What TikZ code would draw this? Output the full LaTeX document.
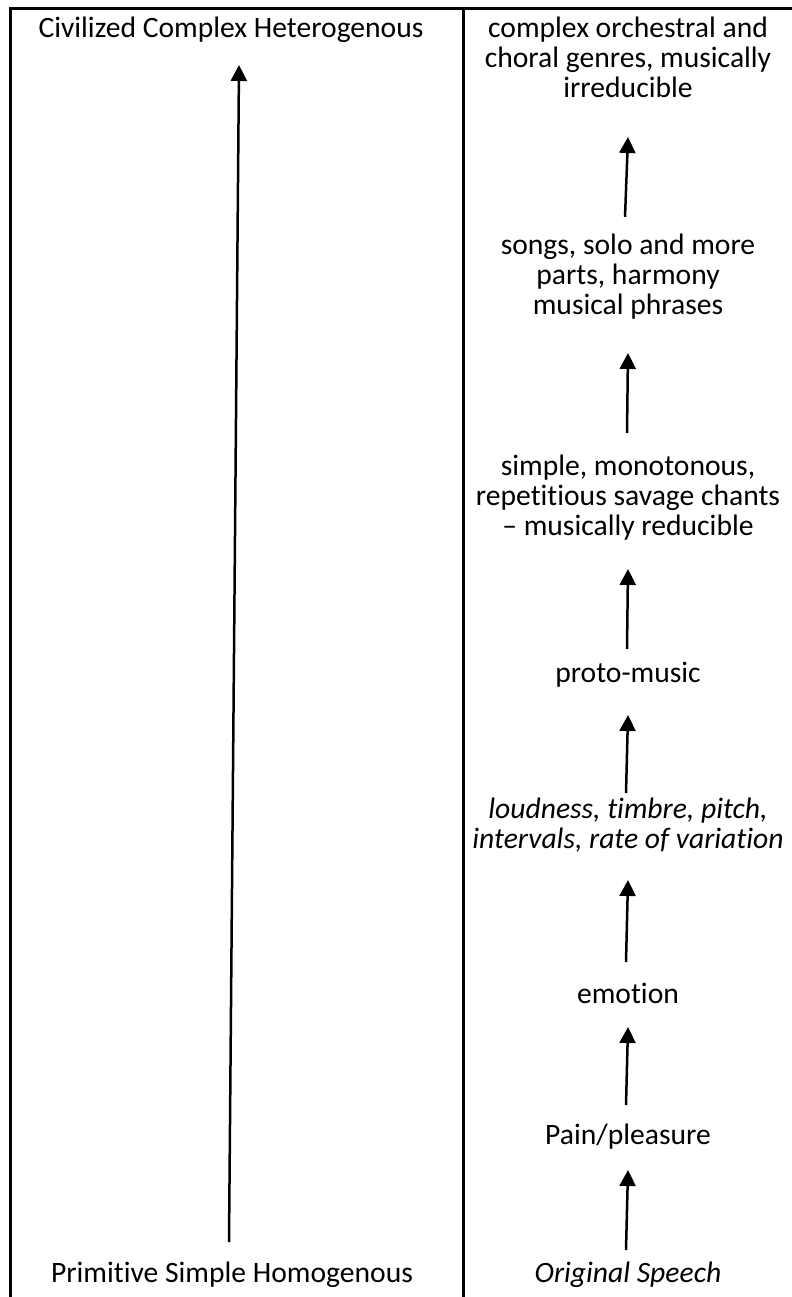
\documentclass[tikz,border=0pt]{standalone}
\usepackage{fontspec}
\setmainfont{Carlito}[Ligatures={NoCommon,NoContextual}]
\usetikzlibrary{arrows.meta}

\begin{document}
\begin{tikzpicture}[x=0.5pt,y=-0.5pt,
	lbl/.style={inner sep=0pt,anchor=base,align=center,font=\fontsize{14.8}{15}\selectfont},
	arr/.style={-{Triangle[width=8pt,length=8pt]},line width=1.25pt}]
	\useasboundingbox (0,0) rectangle (792,1297);
	% table rules
	\draw[line width=1.5pt] (10,1297) -- (10,8) -- (792,8);
	\draw[line width=1.5pt] (463,8) -- (463,1297);
	% left column
	\node[lbl] (civ)  at (231, 37)   {Civilized Complex Heterogenous};
	\node[lbl] (prim) at (232, 1282) {Primitive Simple Homogenous};
	% right column
	\node[lbl] (orch)    at (628, 97)   {complex orchestral and\\choral genres, musically\\irreducible};
	\node[lbl] (songs)   at (628, 314)  {songs, solo and more\\parts, harmony\\musical phrases};
	\node[lbl] (chants)  at (628, 535)  {simple, monotonous,\\repetitious savage chants\\– musically reducible};
	\node[lbl] (proto)   at (628, 682)  {proto-music};
	\node[lbl] (loud)    at (628, 848)  {\itshape loudness, timbre, pitch,\\\itshape intervals, rate of variation};
	\node[lbl] (emotion) at (628, 1003) {emotion};
	\node[lbl] (pain)    at (628, 1144) {Pain/pleasure};
	\node[lbl] (speech)  at (628, 1282) {\itshape Original Speech};
	% arrows
	\draw[arr] ([xshift=-1.5pt,yshift=20pt]prim.base) -- ([xshift=4pt,yshift=-14pt]civ.base);
	\draw[arr] ([xshift=-1pt,yshift=16pt]speech.base) -- ([yshift=-13pt]pain.base);
	\draw[arr] ([xshift=-1pt,yshift=19.5pt]pain.base) -- ([yshift=-12pt]emotion.base);
	\draw[arr] ([xshift=-1pt,yshift=20.5pt]emotion.base) -- ([yshift=-16pt]loud.base);
	\draw[arr] ([xshift=-1pt,yshift=27.5pt]loud.base) -- ([yshift=-16.5pt]proto.base);
	\draw[arr] ([xshift=-0.5pt,yshift=16.5pt]proto.base) -- ([yshift=-17pt]chants.base);
	\draw[arr] ([xshift=-0.5pt,yshift=51pt]chants.base) -- ([yshift=-19.5pt]songs.base);
	\draw[arr] ([xshift=-1.5pt,yshift=48.5pt]songs.base) -- ([yshift=-20pt]orch.base);
\end{tikzpicture}
\end{document}
